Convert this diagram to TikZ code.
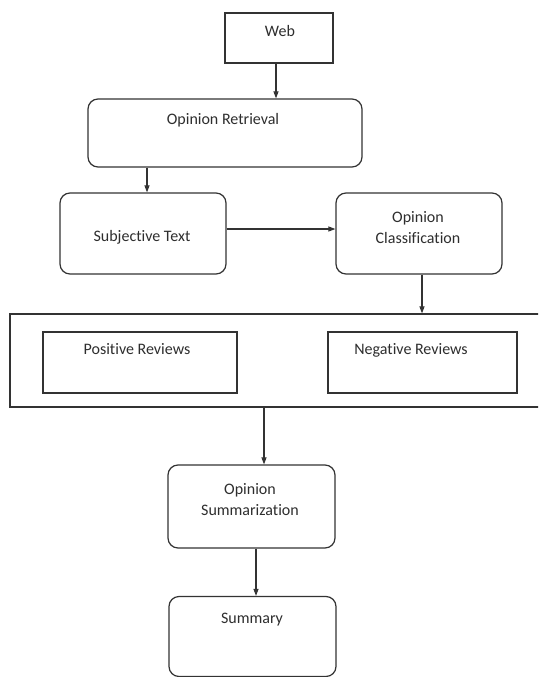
\documentclass[tikz,border=0pt]{standalone}
\usepackage{fontspec}
\setmainfont[Ligatures=NoCommon]{Carlito}
\usetikzlibrary{arrows.meta}
\definecolor{ln}{HTML}{333333}
\definecolor{tx}{HTML}{2E2E2E}
\tikzset{
  box/.style={draw=ln, line width=1.2pt, inner sep=0pt, fill=none},
  rbox/.style={box, rounded corners=10pt},
  lbl/.style={font=\fontsize{16}{21}\selectfont, text=tx, inner sep=0pt, align=center},
  arr/.style={draw=ln, line width=1.1pt, -{Triangle[length=7pt,width=5pt]}}
}
\begin{document}
\begin{tikzpicture}[x=1pt,y=-1pt]
\useasboundingbox (0,0) rectangle (538,677);
\clip (0,0) rectangle (538,677);
\fill[white] (0,0) rectangle (538,677);

\node[box, minimum width=108pt, minimum height=50pt] (web) at (279,38) {};
\node[rbox, minimum width=274pt, minimum height=68pt] (or) at (225,133) {};
\node[rbox, minimum width=166pt, minimum height=81pt] (st) at (143,233.5) {};
\node[rbox, minimum width=166pt, minimum height=81pt] (oc) at (419,233.5) {};
\node[box, minimum width=560pt, minimum height=93pt] (big) at (290,360.5) {};
\node[box, minimum width=194pt, minimum height=61pt] (pos) at (140,362.5) {};
\node[box, minimum width=189pt, minimum height=61pt] (neg) at (422.5,362.5) {};
\node[rbox, minimum width=167pt, minimum height=83pt] (os) at (251.5,506.5) {};
\node[rbox, minimum width=167pt, minimum height=80pt] (sum) at (252.5,636.5) {};

\node[lbl, anchor=mid] (tweb) at (280,34) {Web};
\node[lbl, anchor=mid] (tor) at (223,122) {Opinion Retrieval};
\node[lbl, anchor=mid] (tst) at (142,239) {Subjective Text};
\node[lbl] (toc) at (418,228) {Opinion\\Classification};
\node[lbl, anchor=mid] (tpos) at (137,352) {Positive Reviews};
\node[lbl, anchor=mid] (tneg) at (411,352) {Negative Reviews};
\node[lbl] (tos) at (250,500) {Opinion\\Summarization};
\node[lbl, anchor=mid] (tsum) at (252,621) {Summary};

\draw[arr] ([xshift=-3pt]web.south) -- ([xshift=-3pt]web.south |- or.north);
\draw[arr] ([xshift=4pt]st.north |- or.south) -- ([xshift=4pt]st.north);
\draw[arr] ([yshift=4.5pt]st.east) -- ([yshift=4.5pt]st.east -| oc.west);
\draw[arr] ([xshift=3pt]oc.south) -- ([xshift=3pt]oc.south |- big.north);
\draw[arr] ([xshift=12.5pt]os.north |- big.south) -- ([xshift=12.5pt]os.north);
\draw[arr] ([xshift=4.5pt]os.south) -- ([xshift=4.5pt]os.south |- sum.north);
\end{tikzpicture}
\end{document}
